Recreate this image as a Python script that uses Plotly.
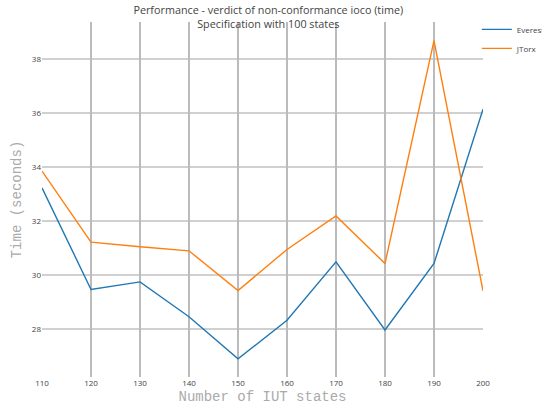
import plotly.graph_objects as go

states = [110, 120, 130, 140, 150, 160, 170, 180, 190, 200]
everest = [33.23, 29.47, 29.75, 28.46, 26.9, 28.33, 30.49, 27.97, 30.43, 36.14]
jtorx = [33.85, 31.22, 31.05, 30.9, 29.43, 30.95, 32.19, 30.43, 38.68, 29.42]
y_ticks = [28, 30, 32, 34, 36, 38]

fig = go.Figure()
# invisible helper trace so the inner-grid axis (x2) is rendered
fig.add_trace(go.Scatter(x=states, y=everest, xaxis="x2", mode="lines",
                         line=dict(width=0, color="rgba(0,0,0,0)"),
                         showlegend=False, hoverinfo="skip"))
fig.add_trace(go.Scatter(x=states, y=everest, mode="lines", name="Everest",
                         line=dict(color="#1f77b4", width=1.4)))
fig.add_trace(go.Scatter(x=states, y=jtorx, mode="lines", name="JTorx",
                         line=dict(color="#ff7f0e", width=1.4)))

fig.update_layout(
    width=542, height=408,
    margin=dict(l=42, r=59, t=22, b=31, autoexpand=False),
    paper_bgcolor="white", plot_bgcolor="white",
    title=dict(text="Performance - verdict of non-conformance ioco (time)<br>Specification with 100 states",
               x=0.495, xanchor="center", yref="container", y=0.966, yanchor="middle",
               font=dict(family="Open Sans, Verdana, sans-serif", size=10.8, color="#444")),
    font=dict(family="Open Sans, Verdana, sans-serif", size=8, color="#444"),
    xaxis=dict(range=[110, 200], tickvals=states, showgrid=False,
               zeroline=False, ticks="",
               title=dict(text="Number of IUT states", standoff=4,
                          font=dict(family="Liberation Mono, Courier New, monospace", size=14, color="#aaaaaa"))),
    xaxis2=dict(overlaying="x", matches="x", range=[110, 200], tickvals=states[1:-1],
                showgrid=True, gridcolor="#bbbbbb", gridwidth=2, zeroline=False,
                showticklabels=False, ticks="", side="bottom"),
    yaxis=dict(range=[26.23, 39.37], tickvals=y_ticks, showgrid=True,
               gridcolor="#d0d0d0", gridwidth=2, zeroline=False, ticks="",
               title=dict(text="Time (seconds)", standoff=6,
                          font=dict(family="Liberation Mono, Courier New, monospace", size=14, color="#aaaaaa"))),
    legend=dict(x=0.986, y=1.02, xanchor="left", yanchor="top",
                font=dict(size=8, color="#444"), bgcolor="rgba(0,0,0,0)",
                tracegroupgap=0),
)

fig.write_html("out.html", config={"displayModeBar": False},
               post_script="document.body.style.margin='0';document.body.style.overflow='hidden';")
